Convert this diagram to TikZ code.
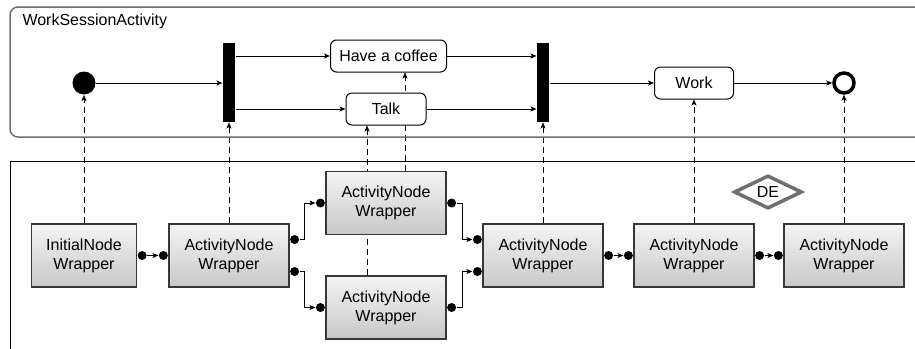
\documentclass[tikz,border=0pt]{standalone}
\usepackage{fontspec}
\setmainfont{Liberation Sans}
\usepackage{tikz}
\usetikzlibrary{arrows.meta,shapes.geometric,backgrounds}
\definecolor{myGray}{RGB}{110,110,110}
\definecolor{myEdge}{RGB}{55,55,55}
\definecolor{myLight}{RGB}{244,244,244}
\definecolor{myShade}{RGB}{200,200,200}

\begin{document}
\begin{tikzpicture}[x=1pt,y=-1pt,line width=1pt,font={\fontsize{16}{19}\selectfont},
		act/.style={draw,rounded corners=6pt,fill=white,minimum height=32pt,inner sep=0pt},
		bar/.style={fill=black,minimum width=12pt,minimum height=79pt,inner sep=0pt},
		wrap/.style={draw=myEdge,line width=1.2pt,top color=myLight,bottom color=myShade,minimum width=120pt,minimum height=63pt,align=center,inner sep=0pt},
		port/.style={circle,fill=black,minimum size=9pt,inner sep=0pt},
		flow/.style={-{Stealth[length=6pt,width=5pt,inset=1.5pt]}},
		trace/.style={dash pattern=on 6pt off 4pt,-{Stealth[length=6pt,width=5pt,inset=1.5pt]}}]
		\useasboundingbox (0,0) rectangle (915,348);
		\clip (0,0) rectangle (915,348);
		
		\begin{scope}
			\draw[myGray,line width=1.5pt,rounded corners=8pt] (10,7) rectangle (935,137);
			\node[anchor=base west,inner sep=0pt] (title) at (22,25) {WorkSessionActivity};
			\node[circle,fill=black,minimum size=23pt,inner sep=0pt] (init) at (84,83) {};
			\node[bar] (fork) at (229,82.5) {};
			\node[act,minimum width=116pt] (coffee) at (388.5,56) {Have a coffee};
			\node[act,minimum width=80pt] (talk) at (386,109) {Talk};
			\node[bar] (join) at (543,82.5) {};
			\node[act,minimum width=79pt] (work) at (694,83) {Work};
			\node[circle,draw,line width=3.5pt,minimum size=20pt,inner sep=0pt] (final) at (844,83) {};
			\draw[flow] (init) -- (init -| fork.west);
			\draw[flow] (fork.east |- coffee.west) -- (coffee.west);
			\draw[flow] (fork.east |- talk.west) -- (talk.west);
			\draw[flow] (coffee.east) -- (coffee.east -| join.west);
			\draw[flow] (talk.east) -- (talk.east -| join.west);
			\draw[flow] (join.east |- work.west) -- (work.west);
			\draw[flow] (work) -- (final);
		\end{scope}
		
		\begin{scope}
			\draw (10,161) rectangle (935,365);
			\node[wrap,minimum width=105pt] (iw) at (84,255.5) {InitialNode\\Wrapper};
			\node[wrap] (aw1) at (229,255.5) {ActivityNode\\Wrapper};
			\node[wrap] (awu) at (386,203) {ActivityNode\\Wrapper};
			\node[wrap] (awl) at (386,307.5) {ActivityNode\\Wrapper};
			\node[wrap] (awj) at (543,255.5) {ActivityNode\\Wrapper};
			\node[wrap] (aww) at (694,255.5) {ActivityNode\\Wrapper};
			\node[wrap] (awf) at (844,255.5) {ActivityNode\\Wrapper};
			\node[diamond,draw=myGray,line width=3.5pt,minimum width=68pt,minimum height=32pt,inner sep=0pt] (de) at (768,192) {DE};
			
			\node[port,anchor=west] (iwR) at (iw.east) {};
			\node[port,anchor=east] (aw1L) at (aw1.west) {};
			\node[port,anchor=west] (aw1Ra) at ([yshift=16pt]aw1.east) {};
			\node[port,anchor=west] (aw1Rb) at ([yshift=-16pt]aw1.east) {};
			\node[port,anchor=east] (awuL) at (awu.west) {};
			\node[port,anchor=west] (awuR) at (awu.east) {};
			\node[port,anchor=east] (awlL) at (awl.west) {};
			\node[port,anchor=west] (awlR) at (awl.east) {};
			\node[port,anchor=east] (awjLa) at ([yshift=16pt]awj.west) {};
			\node[port,anchor=east] (awjLb) at ([yshift=-16pt]awj.west) {};
			\node[port,anchor=west] (awjR) at (awj.east) {};
			\node[port,anchor=east] (awwL) at (aww.west) {};
			\node[port,anchor=west] (awwR) at (aww.east) {};
			\node[port,anchor=east] (awfL) at (awf.west) {};
			
			\draw[flow] (iwR) -- (aw1L);
			\draw[flow] (aw1Ra) -- ++(10,0) |- (awuL);
			\draw[flow] (aw1Rb) -- ++(10,0) |- (awlL);
			\draw[flow] (awuR) -- ++(11,0) |- (awjLa);
			\draw[flow] (awlR) -- ++(11,0) |- (awjLb);
			\draw[flow] (awjR) -- (awwL);
			\draw[flow] (awwR) -- (awfL);
		\end{scope}
		
		\begin{scope}[on background layer]
			\draw[trace] (iw.north) -- (init.south);
			\draw[trace] (aw1.north) -- (fork.south);
			\draw[trace] ([xshift=19pt]awu.north) -- ([xshift=19pt]awu.north |- coffee.south);
			\draw[trace] ([xshift=-19pt]awl.north) -- ([xshift=-19pt]awl.north |- talk.south);
			\draw[trace] (awj.north) -- (join.south);
			\draw[trace] (aww.north) -- (work.south);
			\draw[trace] (awf.north) -- (final.south);
		\end{scope}
	\end{tikzpicture}
\end{document}
